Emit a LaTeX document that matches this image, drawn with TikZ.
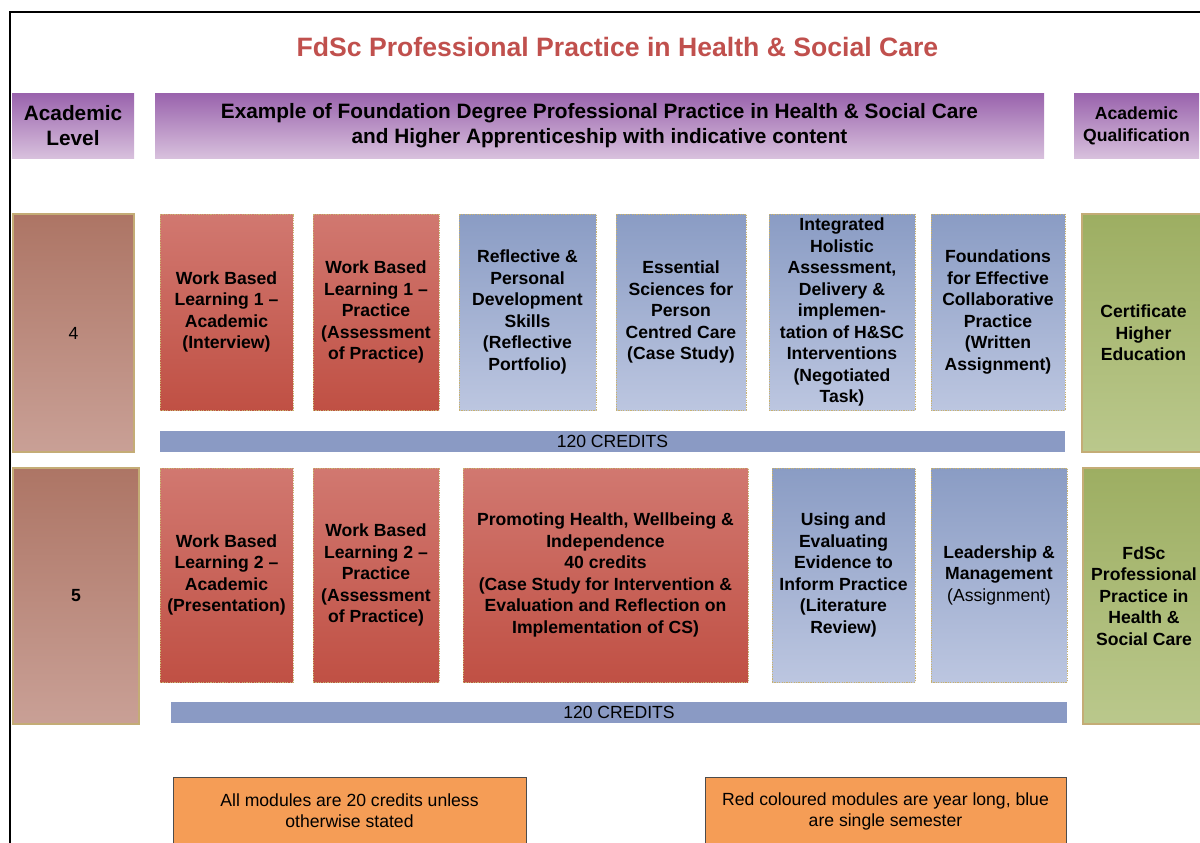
\documentclass[tikz,border=0pt]{standalone}
\usepackage{fontspec}
\setmainfont{Liberation Sans}
\definecolor{titlered}{RGB}{192,80,77}
\definecolor{redtop}{RGB}{209,120,112}
\definecolor{redbot}{RGB}{192,80,68}
\definecolor{bluetop}{RGB}{138,156,196}
\definecolor{bluebot}{RGB}{188,198,224}
\definecolor{purptop}{RGB}{154,100,173}
\definecolor{purpbot}{RGB}{216,192,221}
\definecolor{lvltop}{RGB}{173,117,101}
\definecolor{lvlbot}{RGB}{201,160,150}
\definecolor{greentop}{RGB}{157,174,98}
\definecolor{greenbot}{RGB}{186,200,140}
\definecolor{barblue}{RGB}{138,154,196}
\definecolor{noteorange}{RGB}{245,157,86}
\definecolor{dotline}{RGB}{200,178,112}
\definecolor{tanline}{RGB}{196,172,118}
\begin{document}
\begin{tikzpicture}[x=1pt,y=-1pt,
  every node/.style={inner sep=0pt, outer sep=0pt, align=center, text=black},
  modfont/.style={font=\fontsize{17.6}{21.5}\selectfont\bfseries},
  headfont/.style={font=\fontsize{20.8}{25}\selectfont\bfseries},
  plainfont/.style={font=\fontsize{17.6}{21}\selectfont},
  redmod/.style={modfont, top color=redtop, bottom color=redbot,
    draw=dotline, line width=0.9pt, dash pattern=on 1.2pt off 1.2pt},
  bluemod/.style={modfont, top color=bluetop, bottom color=bluebot,
    draw=dotline, line width=0.9pt, dash pattern=on 1.2pt off 1.2pt},
  headbox/.style={top color=purptop, bottom color=purpbot, minimum height=64},
  levelbox/.style={top color=lvltop, bottom color=lvlbot, draw=tanline, line width=1.4pt},
  qualbox/.style={modfont, top color=greentop, bottom color=greenbot, draw=tanline, line width=1.8pt},
  creditbar/.style={plainfont, fill=barblue, minimum height=21},
  notebox/.style={plainfont, fill=noteorange, draw=black!70, line width=0.8pt}
]
\useasboundingbox (0,0) rectangle (1200,843);
\clip (0,0) rectangle (1200,843);

% outer frame
\draw[line width=2pt] (10,860) -- (10,12) -- (1220,12);

% title
\node[font=\fontsize{26.6}{30}\selectfont\bfseries, text=titlered] (title) at (617.5,47)
  {FdSc Professional Practice in Health \& Social Care};

% column headers
\node[headbox, headfont, minimum width=122] (lvlhead) at (73,126) {Academic\\Level};
\node[headbox, headfont, minimum width=889] (exhead) at (599.5,126)
  {Example of Foundation Degree Professional Practice in Health \& Social Care\\
   and Higher Apprenticeship with indicative content};
\node[headbox, font=\fontsize{17.6}{21.5}\selectfont\bfseries, minimum width=125] (qualhead) at (1136.5,126)
  {Academic\\Qualification};

% level 4
\node[levelbox, plainfont, minimum width=121, minimum height=238] (lvl4) at (73.5,333) {4};
\node[redmod, minimum width=133, minimum height=196] (wbla) at (226.5,312)
  {Work Based\\Learning 1 --\\Academic\\(Interview)};
\node[redmod, minimum width=126, minimum height=196] (wblp) at (376,312)
  {Work Based\\Learning 1 --\\Practice\\(Assessment\\of Practice)};
\node[bluemod, minimum width=137, minimum height=196] (refl) at (527.5,312)
  {Reflective \&\\Personal\\Development\\Skills\\(Reflective\\Portfolio)};
\node[bluemod, minimum width=130, minimum height=196] (ess) at (681,312)
  {Essential\\Sciences for\\Person\\Centred Care\\(Case Study)};
\node[bluemod, minimum width=146, minimum height=196] (integ) at (842,312)
  {Integrated\\Holistic\\Assessment,\\Delivery \&\\implemen-\\tation of H\&SC\\Interventions\\(Negotiated\\Task)};
\node[bluemod, minimum width=134, minimum height=196] (found) at (998,312)
  {Foundations\\for Effective\\Collaborative\\Practice\\(Written\\Assignment)};
\node[qualbox, minimum width=123, minimum height=238] (cert) at (1143.5,333)
  {Certificate\\Higher\\Education};
\node[creditbar, minimum width=905] (bara) at (612.5,441.5) {120 CREDITS};

% level 5
\node[levelbox, modfont, minimum width=126, minimum height=256] (lvl5) at (76,596) {5};
\node[redmod, minimum width=133, minimum height=214] (wblb) at (226.5,575)
  {Work Based\\Learning 2 --\\Academic\\(Presentation)};
\node[redmod, minimum width=126, minimum height=214] (wblq) at (376,575)
  {Work Based\\Learning 2 --\\Practice\\(Assessment\\of Practice)};
\node[redmod, minimum width=285, minimum height=214] (prom) at (605.5,575)
  {Promoting Health, Wellbeing \&\\Independence\\40 credits\\(Case Study for Intervention \&\\Evaluation and Reflection on\\Implementation of CS)};
\node[bluemod, minimum width=143, minimum height=214] (using) at (843.5,575)
  {Using and\\Evaluating\\Evidence to\\Inform Practice\\(Literature\\Review)};
\node[bluemod, minimum width=136, minimum height=214] (lead) at (999,575)
  {Leadership \&\\Management\\{\mdseries (Assignment)}};
\node[qualbox, minimum width=122, minimum height=256] (fdsc) at (1144,596)
  {FdSc\\Professional\\Practice in\\Health \&\\Social Care};
\node[creditbar, minimum width=896] (barb) at (619,712.5) {120 CREDITS};

% notes
\node[notebox, minimum width=353, minimum height=68] (notea) at (349.5,811)
  {All modules are 20 credits unless\\otherwise stated};
\node[notebox, minimum width=361, minimum height=68] (noteb) at (885.5,811)
  {Red coloured modules are year long, blue\\are single semester};
\end{tikzpicture}
\end{document}
